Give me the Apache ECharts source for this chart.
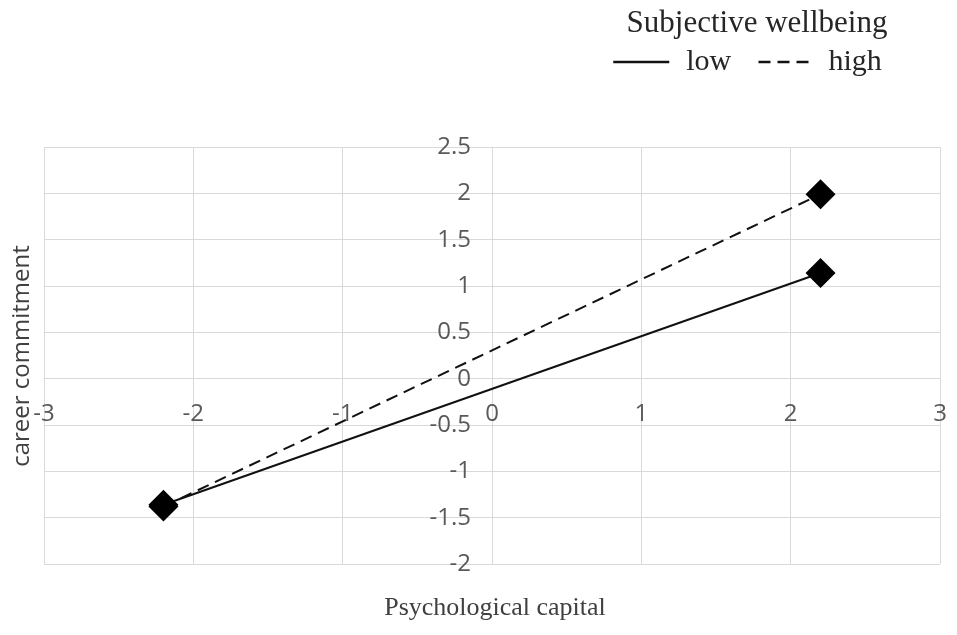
<!DOCTYPE html>
<html>
<head>
<meta charset="utf-8">
<script src="https://cdn.jsdelivr.net/npm/echarts@6/dist/echarts.min.js"></script>
<style>
  html, body { margin: 0; padding: 0; background: #ffffff; }
  #chart { width: 957px; height: 635px; }
</style>
</head>
<body>
<div id="chart"></div>
<script>
// psychological capital levels (x), -1 SD / +1 SD
var capitalLevels = [-2.2, 2.2];
// career commitment for each wellbeing group
var lowValues = [-1.36, 1.14];
var highValues = [-1.38, 1.99];
var seriesNames = ["low", "high"];

var tickFont = "'Open Sans', 'Noto Sans', sans-serif";
var serifFont = "'Liberation Serif', 'DejaVu Serif', serif";

function pairs(xs, ys) {
  return xs.map(function (x, i) { return [x, ys[i]]; });
}

var chart = echarts.init(document.getElementById("chart"));
chart.setOption({
  animation: false,
  title: {
    text: "Subjective wellbeing",
    left: 752,
    textAlign: "center",
    top: 3,
    textStyle: { fontFamily: serifFont, fontSize: 31, fontWeight: "normal", color: "#262626" }
  },
  legend: {
    data: [
      { name: seriesNames[0], textStyle: { padding: [0, 0, 0, 12] } },
      { name: seriesNames[1], textStyle: { padding: [0, 0, 0, 9] } }
    ],
    left: 612,
    top: 47,
    padding: 0,
    itemWidth: 56,
    itemHeight: 14,
    itemGap: 26,
    textStyle: { fontFamily: serifFont, fontSize: 30, color: "#262626" },
    itemStyle: { opacity: 0 },
    lineStyle: { width: 2.5 }
  },
  grid: { left: 44, right: 17, top: 147, bottom: 71, containLabel: false, outerBoundsMode: "none" },
  xAxis: {
    type: "value",
    min: -3,
    max: 3,
    interval: 1,
    position: "bottom",
    axisLine: { onZero: false, lineStyle: { color: "#d9d9d9", width: 1 } },
    axisTick: { show: false },
    axisLabel: { fontFamily: tickFont, fontSize: 24, color: "#595959", margin: 23 },
    splitLine: { lineStyle: { color: "#d9d9d9", width: 1 } }
  },
  yAxis: {
    type: "value",
    min: -2,
    max: 2.5,
    interval: 0.5,
    position: "left",
    axisLine: { onZero: false, lineStyle: { color: "#d9d9d9", width: 1 } },
    axisTick: { show: false },
    axisLabel: { fontFamily: tickFont, fontSize: 24, color: "#595959", margin: 21 },
    splitLine: { lineStyle: { color: "#d9d9d9", width: 1 } }
  },
  graphic: [
    {
      type: "text",
      x: 22,
      y: 356,
      rotation: Math.PI / 2,
      style: {
        text: "career commitment",
        font: "24px " + tickFont,
        fill: "#404040",
        align: "center",
        verticalAlign: "middle"
      }
    },
    {
      type: "text",
      x: 495,
      y: 608,
      style: {
        text: "Psychological capital",
        font: "26px " + serifFont,
        fill: "#404040",
        align: "center",
        verticalAlign: "middle"
      }
    }
  ],
  series: [
    {
      name: seriesNames[0],
      type: "line",
      data: pairs(capitalLevels, lowValues),
      symbol: "diamond",
      symbolSize: 30,
      itemStyle: { color: "#000000" },
      lineStyle: { color: "#111111", width: 2, type: "solid" }
    },
    {
      name: seriesNames[1],
      type: "line",
      data: pairs(capitalLevels, highValues),
      symbol: "diamond",
      symbolSize: 30,
      itemStyle: { color: "#000000" },
      lineStyle: { color: "#111111", width: 2, type: [12, 7] }
    }
  ]
});

// move both axes so they cross at the origin
var origin = chart.convertToPixel({ gridIndex: 0 }, [0, 0]);
var corner = chart.convertToPixel({ gridIndex: 0 }, [-3, -2]);
chart.setOption({
  xAxis: { offset: -(corner[1] - origin[1]) },
  yAxis: { offset: -(origin[0] - corner[0]) }
});
</script>
</body>
</html>
